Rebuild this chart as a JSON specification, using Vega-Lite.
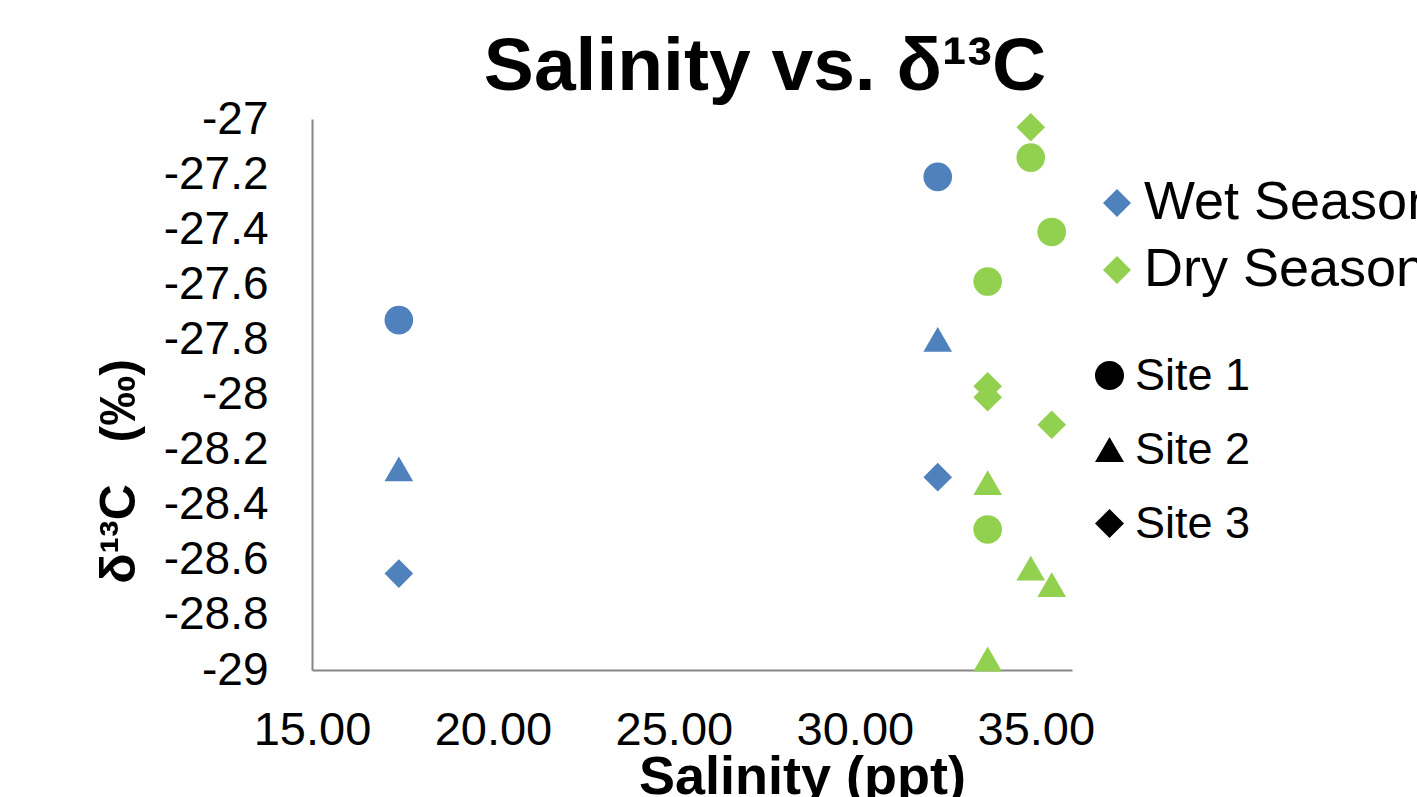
{
  "$schema": "https://vega.github.io/schema/vega-lite/v6.json",
  "width": 760,
  "height": 551,
  "autosize": {"type": "none"},
  "padding": {"left": 312, "top": 119, "right": 345, "bottom": 127},
  "background": "white",
  "config": {
    "font": "Liberation Sans",
    "view": {"stroke": null}
  },
  "title": {
    "text": "Salinity vs. δ¹³C",
    "fontSize": 75,
    "fontWeight": "bold",
    "font": "Liberation Sans",
    "color": "black",
    "frame": "group",
    "anchor": "middle",
    "baseline": "alphabetic",
    "offset": 0,
    "dx": 73,
    "dy": 69
  },
  "data": {
    "values": [
      {"season": "Wet Season", "site": "Site 1", "salinity": 17.40, "d13C": -27.73},
      {"season": "Wet Season", "site": "Site 1", "salinity": 32.29, "d13C": -27.21},
      {"season": "Wet Season", "site": "Site 2", "salinity": 17.40, "d13C": -28.27},
      {"season": "Wet Season", "site": "Site 2", "salinity": 32.29, "d13C": -27.80},
      {"season": "Wet Season", "site": "Site 3", "salinity": 17.40, "d13C": -28.65},
      {"season": "Wet Season", "site": "Site 3", "salinity": 32.29, "d13C": -28.30},
      {"season": "Dry Season", "site": "Site 1", "salinity": 34.86, "d13C": -27.14},
      {"season": "Dry Season", "site": "Site 1", "salinity": 35.44, "d13C": -27.41},
      {"season": "Dry Season", "site": "Site 1", "salinity": 33.67, "d13C": -27.59},
      {"season": "Dry Season", "site": "Site 1", "salinity": 33.67, "d13C": -28.49},
      {"season": "Dry Season", "site": "Site 2", "salinity": 33.67, "d13C": -28.32},
      {"season": "Dry Season", "site": "Site 2", "salinity": 34.86, "d13C": -28.63},
      {"season": "Dry Season", "site": "Site 2", "salinity": 35.44, "d13C": -28.69},
      {"season": "Dry Season", "site": "Site 2", "salinity": 33.67, "d13C": -28.96},
      {"season": "Dry Season", "site": "Site 3", "salinity": 34.86, "d13C": -27.03},
      {"season": "Dry Season", "site": "Site 3", "salinity": 33.67, "d13C": -27.97},
      {"season": "Dry Season", "site": "Site 3", "salinity": 33.67, "d13C": -28.01},
      {"season": "Dry Season", "site": "Site 3", "salinity": 35.44, "d13C": -28.11}
    ]
  },
  "mark": {"type": "point", "filled": true, "opacity": 1, "size": 820, "strokeWidth": 0},
  "encoding": {
    "x": {
      "field": "salinity",
      "type": "quantitative",
      "scale": {"domain": [15, 36], "nice": false, "zero": false},
      "axis": {
        "values": [15, 20, 25, 30, 35],
        "format": ".2f",
        "grid": false,
        "ticks": false,
        "domainColor": "#868686",
        "domainWidth": 2,
        "labelFontSize": 47,
        "labelColor": "black",
        "labelPadding": 37,
        "labelFlush": false,
        "title": "Salinity (ppt)",
        "titleFontSize": 54,
        "titleFontWeight": "bold",
        "titleColor": "black",
        "titleX": 490,
        "titleY": 123,
        "titleBaseline": "alphabetic",
        "titleAnchor": "middle"
      }
    },
    "y": {
      "field": "d13C",
      "type": "quantitative",
      "scale": {"domain": [-29, -27], "nice": false, "zero": false},
      "axis": {
        "values": [-29, -28.8, -28.6, -28.4, -28.2, -28, -27.8, -27.6, -27.4, -27.2, -27],
        "labelExpr": "'' + datum.value",
        "grid": false,
        "ticks": false,
        "domainColor": "#868686",
        "domainWidth": 2,
        "labelFontSize": 46,
        "labelColor": "black",
        "labelPadding": 44,
        "labelFlush": false,
        "title": "δ¹³C\u00a0\u00a0\u00a0(‰)",
        "titleFontSize": 50,
        "titleFontWeight": "bold",
        "titleColor": "black",
        "titleAngle": 270,
        "titleX": -178,
        "titleY": 352,
        "titleBaseline": "alphabetic",
        "titleAlign": "center"
      }
    },
    "color": {
      "field": "season",
      "type": "nominal",
      "scale": {"domain": ["Wet Season", "Dry Season"], "range": ["#4f81bd", "#92d050"]},
      "legend": {
        "title": null,
        "orient": "none",
        "legendX": 778,
        "legendY": 57,
        "padding": 0,
        "symbolType": "diamond",
        "symbolSize": 784,
        "symbolStrokeWidth": 0,
        "labelFontSize": 54,
        "labelColor": "black",
        "labelOffset": 0,
        "rowPadding": 13,
        "labelLimit": 0
      }
    },
    "shape": {
      "field": "site",
      "type": "nominal",
      "scale": {"domain": ["Site 1", "Site 2", "Site 3"], "range": ["circle", "triangle-up", "diamond"]},
      "legend": {
        "title": null,
        "orient": "none",
        "legendX": 775,
        "legendY": 234,
        "padding": 0,
        "symbolFillColor": "black",
        "symbolStrokeColor": "black",
        "symbolStrokeWidth": 0,
        "symbolSize": 841,
        "labelFontSize": 45,
        "labelColor": "black",
        "labelOffset": 3,
        "rowPadding": 28,
        "labelLimit": 0
      }
    }
  }
}
